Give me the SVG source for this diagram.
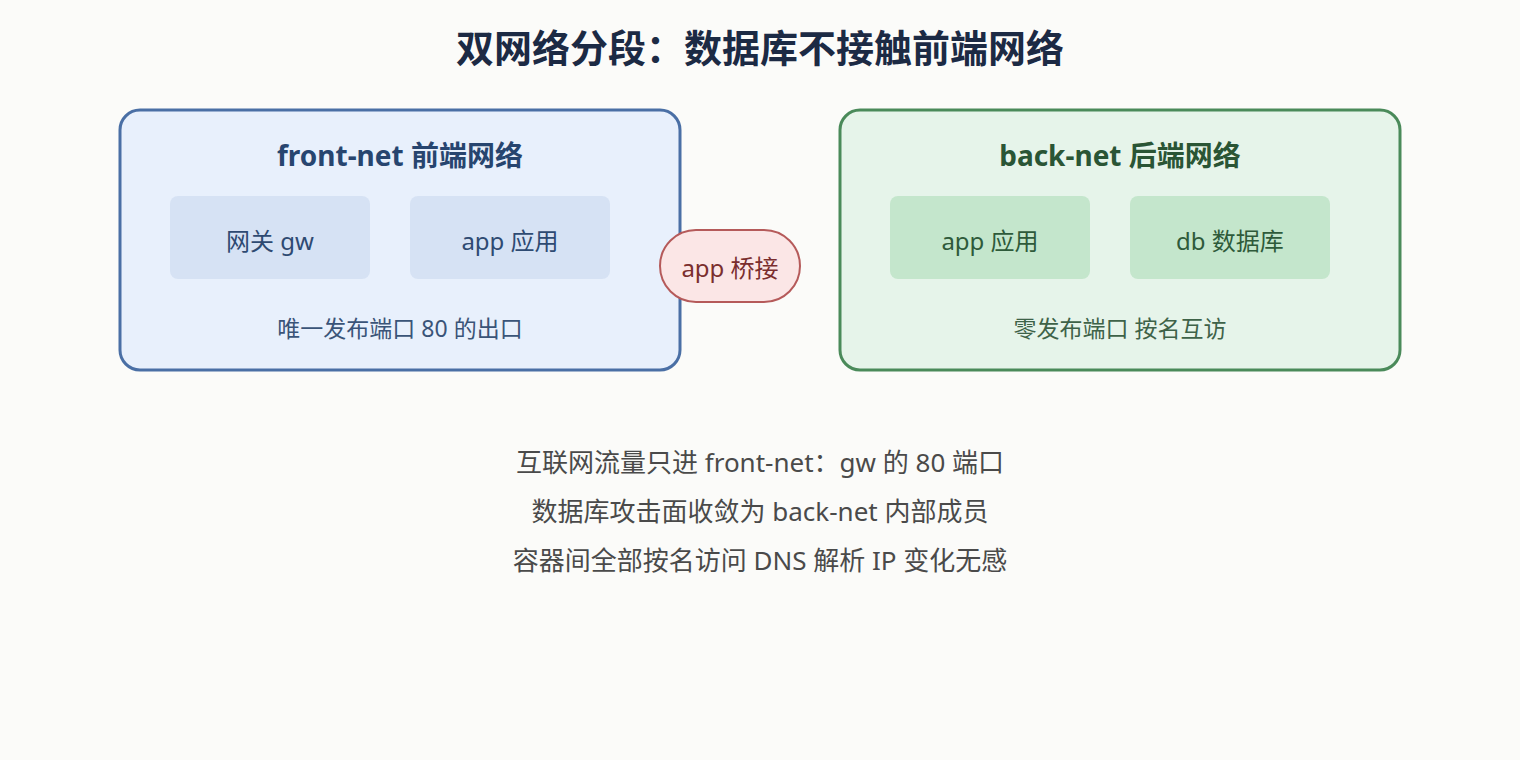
<svg xmlns="http://www.w3.org/2000/svg" width="1520" height="760" viewBox="0 0 1520 760">
<style>
text{font-family:"Noto Sans","Noto Sans CJK SC",sans-serif;text-anchor:middle;dominant-baseline:central}
.t{font-size:38px;font-weight:bold;fill:#1c2a44}
.h{font-size:28px;font-weight:bold}
.n{font-size:24px}
.f{font-size:23px}
.b{font-size:26px;fill:#4a4a4a}
</style>
<rect width="1520" height="760" fill="#fbfbf9"/>
<text class="t" x="760" y="47">双网络分段：数据库不接触前端网络</text>
<g id="front-net">
<rect x="120" y="110" width="560" height="260" rx="20" fill="#e8f0fc" stroke="#4a6fa5" stroke-width="3"/>
<text class="h" x="400" y="155" fill="#27456f">front-net 前端网络</text>
<text class="f" x="400" y="328" fill="#3a5478">唯一发布端口 80 的出口</text>
</g>
<g id="gw"><rect x="170" y="196" width="200" height="83" rx="8" fill="#d6e2f4"/><text class="n" x="270" y="240" fill="#2e4a72">网关 gw</text></g>
<g id="app-front"><rect x="410" y="196" width="200" height="83" rx="8" fill="#d6e2f4"/><text class="n" x="510" y="240" fill="#2e4a72">app 应用</text></g>
<g id="back-net">
<rect x="840" y="110" width="560" height="260" rx="20" fill="#e6f4ea" stroke="#4a8a5a" stroke-width="3"/>
<text class="h" x="1120" y="155" fill="#2a5535">back-net 后端网络</text>
<text class="f" x="1120" y="328" fill="#3e6248">零发布端口 按名互访</text>
</g>
<g id="app-back"><rect x="890" y="196" width="200" height="83" rx="8" fill="#c4e6cc"/><text class="n" x="990" y="240" fill="#2e5a3a">app 应用</text></g>
<g id="db"><rect x="1130" y="196" width="200" height="83" rx="8" fill="#c4e6cc"/><text class="n" x="1230" y="240" fill="#2e5a3a">db 数据库</text></g>
<g id="bridge"><rect x="660" y="230" width="140" height="72" rx="36" fill="#fbe6e6" stroke="#b55a5a" stroke-width="2"/><text class="n" x="730" y="267" fill="#7a2e2e">app 桥接</text></g>
<g id="connectors"></g>
<text class="b" x="760" y="462">互联网流量只进 front-net：gw 的 80 端口</text>
<text class="b" x="760" y="511">数据库攻击面收敛为 back-net 内部成员</text>
<text class="b" x="760" y="560">容器间全部按名访问 DNS 解析 IP 变化无感</text>
</svg>
